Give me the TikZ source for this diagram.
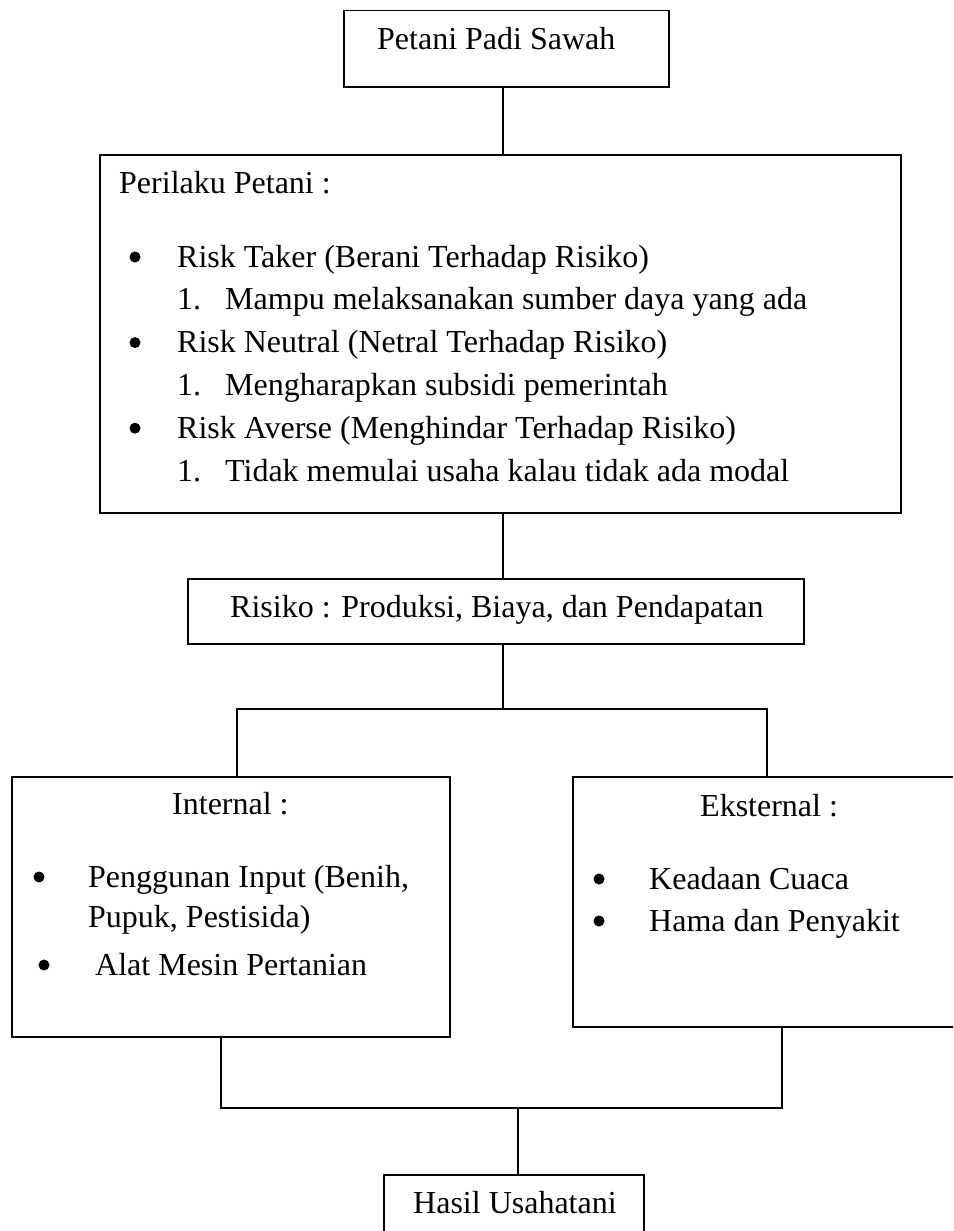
\documentclass[tikz,border=0pt]{standalone}
\usepackage{fontspec}
\setmainfont{Liberation Serif}
\usetikzlibrary{calc}
\tikzset{
  box/.style={draw=black, line width=1.5pt, rectangle, inner sep=0pt, anchor=north west},
  txt/.style={inner sep=0pt, anchor=base west, font=\fontsize{32pt}{42pt}\selectfont},
  bul/.style={circle, fill=black, inner sep=0pt, minimum size=11pt},
  conn/.style={draw=black, line width=1.5pt},
}
\begin{document}
\begin{tikzpicture}[x=1pt,y=-1pt]
\useasboundingbox (0,0) rectangle (953,1231);
\clip (0,0) rectangle (953,1231);
% boxes
\node[box, minimum width=325pt, minimum height=76pt] (top) at (343,10) {};
\node[box, minimum width=801pt, minimum height=358pt] (peri) at (99,154) {};
\node[box, minimum width=616pt, minimum height=65pt] (ris) at (187,578) {};
\node[box, minimum width=438pt, minimum height=260pt] (int) at (11,776) {};
\node[box, minimum width=400pt, minimum height=250pt] (eks) at (572,776) {};
\node[box, minimum width=260pt, minimum height=90pt] (has) at (383,1174) {};
% texts
\node[txt] (t0) at (377,50) {Petani Padi Sawah};
\node[txt] (t1) at (119,193) {Perilaku Petani :};
\node[bul] (b1) at (135,257) {};
\node[txt] (t2) at (177,267) {Risk Taker (Berani Terhadap Risiko)};
\node[txt] (n1) at (177,309.8) {1.};
\node[txt] (t3) at (225,309.8) {Mampu melaksanakan sumber daya yang ada};
\node[bul] (b2) at (135,342.6) {};
\node[txt] (t4) at (177,352.6) {Risk Neutral (Netral Terhadap Risiko)};
\node[txt] (n2) at (177,395.4) {1.};
\node[txt] (t5) at (225,395.4) {Mengharapkan subsidi pemerintah};
\node[bul] (b3) at (135,428.2) {};
\node[txt] (t6) at (177,438.2) {Risk Averse (Menghindar Terhadap Risiko)};
\node[txt] (n3) at (177,481) {1.};
\node[txt] (t7) at (225,481) {Tidak memulai usaha kalau tidak ada modal};
\node[txt] (t8) at (230,617) {Risiko : Produksi, Biaya, dan Pendapatan};
\node[txt] (t9) at (172,814) {Internal :};
\node[bul] (b4) at (39,877) {};
\node[txt] (t10) at (88,887) {Penggunan Input (Benih,};
\node[txt] (t11) at (88,927) {Pupuk, Pestisida)};
\node[bul] (b5) at (44,965) {};
\node[txt] (t12) at (95,975) {Alat Mesin Pertanian};
\node[txt] (t13) at (700,816) {Eksternal :};
\node[bul] (b6) at (599,879) {};
\node[txt] (t14) at (649,889) {Keadaan Cuaca};
\node[bul] (b7) at (599,921) {};
\node[txt] (t15) at (649,931) {Hama dan Penyakit};
\node[txt] (t16) at (413,1213) {Hasil Usahatani};
% connector guide coordinates
\coordinate (cx) at (503,0);
\coordinate (lx) at (237,0);
\coordinate (rx) at (767,0);
\coordinate (split) at (503,709);
\coordinate (ilx) at (221,0);
\coordinate (erx) at (782,0);
\coordinate (join) at (518,1108);
% connectors
\draw[conn] (cx |- top.south) -- (cx |- peri.north);
\draw[conn] (cx |- peri.south) -- (cx |- ris.north);
\draw[conn] (cx |- ris.south) -- (split);
\draw[conn] (lx |- int.north) -- (lx |- split) -- (rx |- split) -- (rx |- eks.north);
\draw[conn] (ilx |- int.south) -- (ilx |- join) -- (erx |- join) -- (erx |- eks.south);
\draw[conn] (join) -- (join |- has.north);
\end{tikzpicture}
\end{document}
